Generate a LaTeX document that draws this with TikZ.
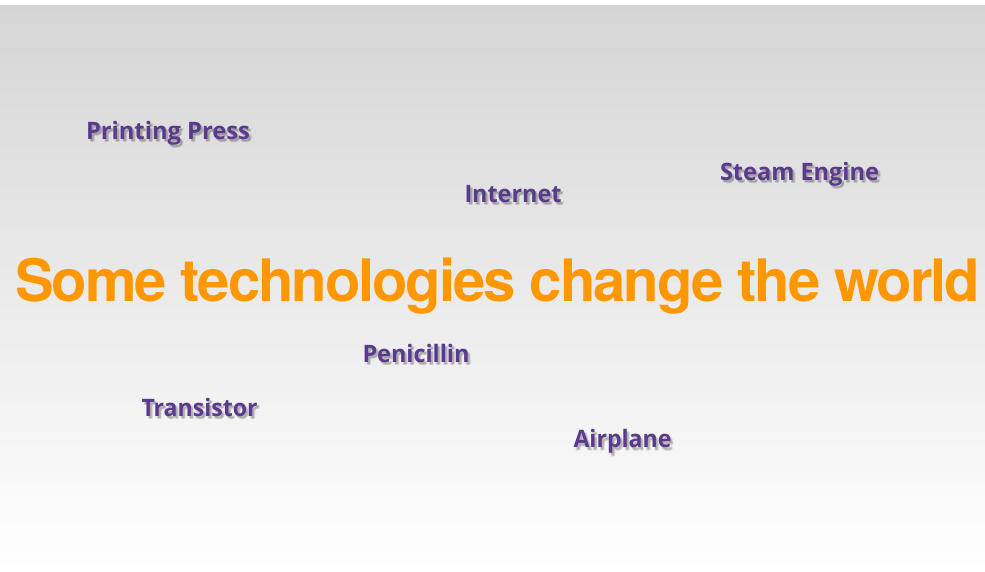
\documentclass[tikz,border=0pt]{standalone}
\usepackage{fontspec}
\usepackage{graphicx}
\newfontfamily\titlefont{TeX Gyre Heros}[LetterSpace=-3.5]
\newfontfamily\labelfont{Open Sans}
\definecolor{bgtop}{RGB}{213,213,213}
\definecolor{techpurple}{RGB}{91,58,142}
\definecolor{titleorange}{RGB}{255,152,0}
\newsavebox\fitbox
\newlength\fitlen
\newcommand\fitx[3]{%
  \sbox\fitbox{#1#3}%
  \setlength\fitlen{\wd\fitbox}%
  \pgfmathsetmacro\fitscl{#2/\fitlen}%
  \scalebox{\fitscl}[1]{\usebox\fitbox}}
\newcommand\techlabel[5]{% name, x, baseline y, width, text
  \foreach \dx/\dy [count=\k] in {1.5/2,2.5/3,2/3.5,3/2.5} {
    \node[shadowtext] (#1s\k) at (#2+\dx,#3+\dy) {\fitx{\labelfont\bfseries\fontsize{24}{28}\selectfont}{#4}{#5}};
  }
  \node[techtext] (#1) at (#2,#3) {\fitx{\labelfont\bfseries\fontsize{24}{28}\selectfont}{#4}{#5}};
}
\tikzset{
  techtext/.style={anchor=base, inner sep=0pt, text=techpurple},
  shadowtext/.style={anchor=base, inner sep=0pt, text=black, text opacity=0.08},
  titletext/.style={anchor=base, inner sep=0pt, text=titleorange}
}
\begin{document}
\begin{tikzpicture}[x=1pt,y=-1pt]
\useasboundingbox (0,0) rectangle (985,571);
\fill[white] (0,0) rectangle (985,5);
\shade[top color=bgtop, bottom color=white, draw=none] (0,5) rectangle (985,571);

\techlabel{pp}{168}{139}{164}{Printing Press}
\techlabel{inet}{513}{202}{97}{Internet}
\techlabel{steam}{799.5}{180}{159}{Steam Engine}
\techlabel{peni}{416}{362}{107}{Penicillin}
\techlabel{trans}{199.5}{416}{116}{Transistor}
\techlabel{air}{622.5}{447.5}{98}{Airplane}

\node[titletext] (title) at (497.5,301.5) {\fitx{\titlefont\bfseries\fontsize{58.5}{64}\selectfont}{965}{Some technologies change the world}};
\end{tikzpicture}
\end{document}
